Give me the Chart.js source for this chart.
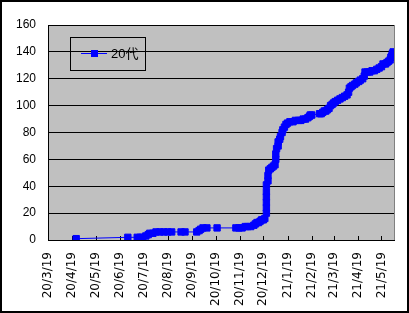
<!DOCTYPE html>
<html>
<head>
<meta charset="utf-8">
<script src="https://cdn.jsdelivr.net/npm/chart.js@4/dist/chart.umd.min.js"></script>
<style>
  html, body { margin: 0; padding: 0; background: #fff; }
  #wrap { position: relative; width: 409px; height: 313px; }
  canvas { display: block; }
</style>
</head>
<body>
<div id="wrap"><canvas id="c" width="409" height="313"></canvas></div>
<script>
// ---- data ----
const seriesLabel = '20代';
const dates = [
  '2020-04-24','2020-06-29','2020-07-11','2020-07-15','2020-07-18','2020-07-22','2020-07-25','2020-07-27',
  '2020-07-31','2020-08-04','2020-08-09','2020-08-14','2020-08-19','2020-08-24','2020-09-05','2020-09-10',
  '2020-09-25','2020-09-28','2020-09-30','2020-10-03','2020-10-08','2020-10-21','2020-11-14','2020-11-18',
  '2020-11-22','2020-11-26','2020-11-29','2020-12-03','2020-12-07','2020-12-09','2020-12-11','2020-12-13',
  '2020-12-15','2020-12-17','2020-12-19','2020-12-21',
  '2020-12-23','2020-12-23','2020-12-23','2020-12-23','2020-12-23','2020-12-23',
  '2020-12-25','2020-12-25','2020-12-26','2020-12-28','2020-12-30','2021-01-01','2021-01-03',
  '2021-01-04','2021-01-04','2021-01-05','2021-01-07','2021-01-07','2021-01-09','2021-01-10','2021-01-12',
  '2021-01-13','2021-01-15','2021-01-17','2021-01-19','2021-01-22','2021-01-26','2021-01-29','2021-02-02',
  '2021-02-05','2021-02-08','2021-02-11','2021-02-14','2021-02-16','2021-02-17','2021-02-19',
  '2021-03-01','2021-03-03','2021-03-05','2021-03-07','2021-03-09','2021-03-11','2021-03-13','2021-03-15',
  '2021-03-17','2021-03-19','2021-03-21','2021-03-24','2021-03-27','2021-03-30','2021-04-02','2021-04-05',
  '2021-04-07','2021-04-08','2021-04-10','2021-04-12','2021-04-15','2021-04-17','2021-04-20','2021-04-22',
  '2021-04-25','2021-04-27','2021-04-28','2021-05-01','2021-05-04','2021-05-07','2021-05-10','2021-05-13',
  '2021-05-16','2021-05-19','2021-05-21','2021-05-24','2021-05-26','2021-05-28','2021-05-30','2021-05-31',
  '2021-06-01','2021-06-02','2021-06-03'
];
const counts = [
  1, 2, 2, 2, 2, 3, 4, 5,
  5, 6, 6, 6, 6, 6, 6, 6,
  6, 7, 8, 9, 9, 9, 9, 9,
  9, 10, 10, 10, 11, 12, 13, 13,
  14, 15, 15, 16,
  20, 24, 28, 32, 36, 41,
  44, 48, 52, 53, 54, 55, 56,
  60, 64, 68, 70, 73, 75, 77, 80,
  82, 84, 86, 87, 88, 88, 89, 89,
  89, 90, 90, 91, 92, 93, 93,
  94, 94, 95, 96, 96, 97, 98, 100,
  101, 102, 103, 104, 105, 106, 107, 108,
  110, 113, 114, 115, 116, 117, 118, 119,
  120, 122, 125, 125, 125, 126, 126, 127,
  128, 129, 131, 131, 132, 133, 134, 136,
  137, 139, 140
];
const tickLabels = ['20/3/19','20/4/19','20/5/19','20/6/19','20/7/19','20/8/19','20/9/19','20/10/19',
  '20/11/19','20/12/19','21/1/19','21/2/19','21/3/19','21/4/19','21/5/19'];
const axisStart = '2020-03-19';
const axisEnd = '2021-06-04';
const yMin = 0, yMax = 160, yStep = 20;

// ---- helpers ----
const DAY = 86400000;
function isoToUTC(s) { const p = s.split('-').map(Number); return Date.UTC(p[0], p[1]-1, p[2]); }
function labelToUTC(s) { const p = s.split('/').map(Number); return Date.UTC(2000 + p[0], p[1]-1, p[2]); }
const t0 = isoToUTC(axisStart);
const dayOf = t => Math.round((t - t0) / DAY);
const points = dates.map((d, i) => ({ x: dayOf(isoToUTC(d)), y: counts[i] }));
const tickDays = tickLabels.map(l => dayOf(labelToUTC(l)));

const BLUE = '#0000FF';

const decor = {
  id: 'decor',
  beforeDraw(chart) {
    const { ctx, chartArea: a } = chart;
    ctx.save();
    ctx.fillStyle = '#fff';
    ctx.fillRect(0, 0, chart.width, chart.height);
    ctx.fillStyle = '#C0C0C0';
    ctx.fillRect(a.left, a.top, a.right - a.left, a.bottom - a.top);
    ctx.strokeStyle = '#808080';
    ctx.lineWidth = 1;
    ctx.beginPath();
    ctx.moveTo(Math.round(a.right) + 0.5, a.top);
    ctx.lineTo(Math.round(a.right) + 0.5, a.bottom);
    ctx.stroke();
    ctx.restore();
  },
  beforeDatasetsDraw(chart) {
    const { ctx, chartArea: a, scales } = chart;
    ctx.save();
    ctx.strokeStyle = '#000';
    ctx.lineWidth = 1;
    ctx.beginPath();
    tickDays.forEach(d => {
      const x = Math.round(scales.x.getPixelForValue(d)) + 0.5;
      ctx.moveTo(x, Math.round(a.bottom) - 4);
      ctx.lineTo(x, Math.round(a.bottom));
    });
    ctx.stroke();
    ctx.restore();
  },
  afterDraw(chart) {
    const { ctx } = chart;
    ctx.save();
    // legend box
    ctx.strokeStyle = '#000';
    ctx.lineWidth = 1;
    ctx.strokeRect(70.5, 37.5, 75, 33);
    ctx.strokeStyle = BLUE;
    ctx.beginPath();
    ctx.moveTo(81, 53.5);
    ctx.lineTo(107, 53.5);
    ctx.stroke();
    ctx.fillStyle = BLUE;
    ctx.fillRect(91, 50, 7, 7);
    ctx.fillStyle = '#000';
    ctx.font = '13px "Liberation Sans", "Noto Sans CJK JP", sans-serif';
    ctx.textBaseline = 'middle';
    ctx.textAlign = 'left';
    ctx.fillText(chart.data.datasets[0].label, 111, 54);
    // outer frame
    ctx.fillStyle = '#000';
    ctx.fillRect(0, 0, chart.width, 2);
    ctx.fillRect(0, chart.height - 2, chart.width, 2);
    ctx.fillRect(0, 0, 2, chart.height);
    ctx.fillRect(chart.width - 2, 0, 2, chart.height);
    ctx.restore();
  }
};

new Chart(document.getElementById('c'), {
  type: 'line',
  data: {
    datasets: [{
      label: seriesLabel,
      data: points,
      borderColor: BLUE,
      backgroundColor: BLUE,
      borderWidth: 1,
      pointStyle: 'rect',
      pointRadius: 4.5,
      pointBorderWidth: 1,
      pointBorderColor: BLUE,
      pointBackgroundColor: BLUE,
      tension: 0,
      fill: false
    }]
  },
  options: {
    responsive: false,
    animation: false,
    devicePixelRatio: 1,
    layout: { padding: { left: 0, top: 25, right: 15, bottom: 0 } },
    plugins: { legend: { display: false }, tooltip: { enabled: false } },
    scales: {
      x: {
        type: 'linear',
        min: 0,
        max: dayOf(isoToUTC(axisEnd)),
        afterBuildTicks(scale) { scale.ticks = tickDays.map(v => ({ value: v })); },
        afterFit(scale) { scale.height = 73; },
        grid: { display: true, drawOnChartArea: false, drawTicks: false },
        border: { display: true, color: '#000', width: 1 },
        ticks: {
          autoSkip: false,
          minRotation: 90,
          maxRotation: 90,
          padding: 12,
          color: '#000',
          font: { family: '"DejaVu Sans", sans-serif', size: 12 },
          callback(value) { const i = tickDays.indexOf(value); return i >= 0 ? tickLabels[i] : ''; }
        }
      },
      y: {
        min: yMin,
        max: yMax,
        afterFit(scale) { scale.width = 48; },
        grid: { color: '#000', lineWidth: 1, drawTicks: false },
        border: { display: true, color: '#000', width: 1 },
        ticks: {
          stepSize: yStep,
          padding: 12,
          color: '#000',
          font: { family: '"Liberation Sans", sans-serif', size: 12 }
        }
      }
    }
  },
  plugins: [decor]
});
</script>
</body>
</html>
